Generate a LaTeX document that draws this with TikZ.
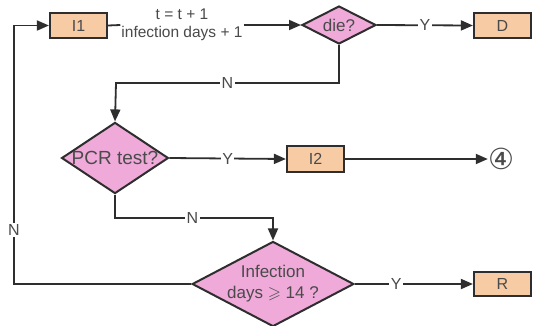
\documentclass[tikz,border=0pt]{standalone}
\usepackage{amssymb}
\usepackage{fontspec}
\setmainfont{Liberation Sans}
\newfontfamily\symfont{DejaVu Sans}
\usetikzlibrary{shapes.geometric,arrows.meta}
\definecolor{boxfill}{HTML}{F7CBA4}
\definecolor{decfill}{HTML}{EFAAD9}
\definecolor{edge}{HTML}{2E2E2E}
\definecolor{txt}{HTML}{4A4A4A}
\tikzset{
  every node/.style={text=txt, font=\fontsize{16}{18}\selectfont},
  statebox/.style={rectangle, draw=edge, line width=2.2pt, fill=boxfill,
    minimum width=57pt, minimum height=25pt, inner sep=0pt},
  decision/.style={diamond, draw=edge, line width=2pt, fill=decfill,
    inner sep=0pt},
  flow/.style={draw=edge, line width=1.8pt},
  arrowed/.style={flow, -{Triangle[length=12pt,width=10pt]}},
  answer/.style={fill=white, inner sep=1.5pt, font=\fontsize{16}{18}\selectfont}
}
\begin{document}
\begin{tikzpicture}[x=1pt,y=-1pt]
  \useasboundingbox (0,0) rectangle (533,325);
  \fill[white] (0,0) rectangle (533,325);

  % states and decisions
  \node[statebox] (i1) at (78.5,25.5) {I1};
  \node[align=center, inner sep=1pt, font=\fontsize{15.5}{18}\selectfont] (step) at (182,25) {t = t + 1\\infection days + 1};
  \node[decision, minimum width=74pt, minimum height=38pt, aspect=1.95,
        font=\fontsize{17}{18}\selectfont] (die) at (339,25) {die?};
  \node[statebox] (d) at (502.5,25.5) {D};

  \node[decision, minimum width=106pt, minimum height=70pt, aspect=1.5,
        font=\fontsize{19}{20}\selectfont] (pcr) at (115,158) {PCR test?};
  \node[statebox, minimum height=26pt] (i2) at (315.5,159) {I2};
  \node[inner sep=0pt, font=\symfont\fontsize{29}{29}\selectfont] (four) at (501,159) {④};

  \node[decision, minimum width=154pt, minimum height=80pt, aspect=1.9,
        align=center, font=\fontsize{17}{21}\selectfont] (inf) at (273,284)
        {Infection\\days $\geqslant$ 14 ?};
  \node[statebox, minimum height=24pt] (r) at (502.5,284) {R};

  % bend points of the routed connectors
  \coordinate (dieTurn) at (116,83);
  \coordinate (pcrTurn) at (273,218);
  \coordinate (backLow) at (14,284);
  \coordinate (backHigh) at (14,25.5);

  % connectors
  \draw[flow] (i1.east) -- (step.west);
  \draw[arrowed] (step.east) -- (die.west);
  \draw[arrowed] (die.east) -- node[answer]{Y} (d.west);
  \draw[arrowed] (die.south) |- node[answer, pos=0.75]{N} (dieTurn) -- (pcr.north);
  \draw[arrowed] (pcr.east) -- node[answer]{Y} (i2.west);
  \draw[arrowed] (i2.east) -- (four.west);
  \draw[arrowed] (pcr.south) |- node[answer, pos=0.745]{N} (pcrTurn) -- (inf.north);
  \draw[arrowed] (inf.east) -- node[answer, pos=0.35]{Y} (r.west);
  \draw[arrowed] (inf.west) -- (backLow) -- node[answer, pos=0.21]{N} (backHigh) -- (i1.west);
\end{tikzpicture}
\end{document}
